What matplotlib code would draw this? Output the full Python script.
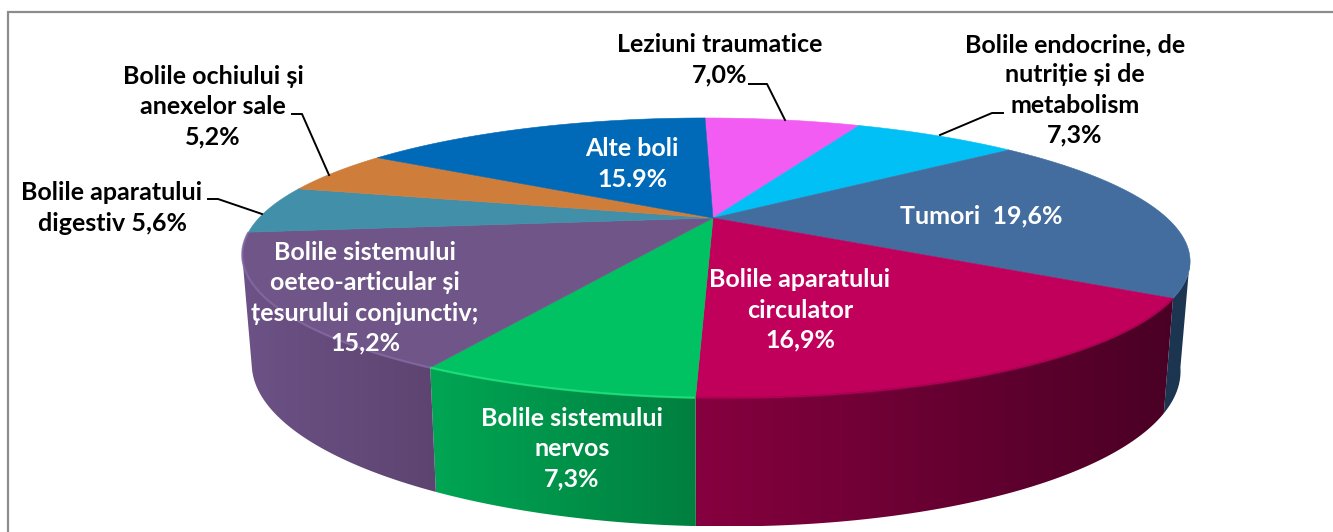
import numpy as np
import matplotlib
matplotlib.use("Agg")
import matplotlib.pyplot as plt
from matplotlib.colors import LinearSegmentedColormap
from matplotlib.patches import Polygon, Rectangle

plt.rcParams['font.family'] = ['Lato', 'DejaVu Sans']

# clockwise from 12 o'clock
shares = [7.0, 7.3, 19.6, 16.9, 7.3, 15.2, 5.6, 5.2, 15.9]
slice_names = ["Leziuni traumatice", "Bolile endocrine", "Tumori", "Bolile aparatului circulator",
               "Bolile sistemului nervos", "Bolile sistemului osteo-articular", "Bolile aparatului digestiv",
               "Bolile ochiului", "Alte boli"]
top_colors = ["#f25cf2", "#00c0f5", "#436c9f", "#c1005c", "#00c262", "#705688", "#418fa9", "#cf7d3a", "#0069b8"]
side_left = ["#c040c0", "#0090c0", "#1c3550", "#86003f", "#00a654", "#6c5286", "#35788e", "#a86530", "#005090"]
side_right = ["#c040c0", "#0090c0", "#1c3550", "#4a0025", "#007f3f", "#5d4470", "#35788e", "#a86530", "#005090"]
rim_colors = [None, None, None, "#a5004f", "#22e37f", "#8468a3", None, None, None]

outer_labels = ["Leziuni traumatice\n7,0%", "Bolile endocrine, de\nnutriție și de\nmetabolism\n7,3%",
                "Bolile ochiului și\nanexelor sale\n5,2%", "Bolile aparatului\ndigestiv 5,6%"]
outer_pos = [(720, 60), (1075, 90), (213, 107), (112, 208)]
inner_labels = ["Alte boli\n15.9%", "Tumori  19,6%", "Bolile aparatului\ncirculator\n16,9%",
                "Bolile sistemului\noeteo-articular și\nțesurului conjunctiv;\n15,2%",
                "Bolile sistemului\nnervos\n7,3%"]
inner_pos = [(632, 164), (981, 216), (800, 310), (365, 298), (572, 449)]
leaders = [[(749, 84), (767, 84), (785, 120)], [(1003, 113), (992, 113), (940, 135)],
           [(292, 114), (302, 114), (329, 175)], [(208, 199), (218, 199), (262, 214)]]

P = 0.2857


def project(theta):
    # tilted disc seen in perspective, theta clockwise from the back
    u, v = np.sin(theta), np.cos(theta)
    w = 1 + P * v
    return 713 + (454 * u - 10.3 * v) / w, 218 - 128.6 * v / w


def project_low(theta):
    x, y = project(theta)
    w = 1 + P * np.cos(theta)
    return 713 + 0.98 * (x - 713), y + 43 + 61 / w


fig = plt.figure(figsize=(13.33, 5.32), dpi=100)
ax = fig.add_axes([0, 0, 1, 1])
ax.add_patch(Rectangle((8, 12), 1340, 540, fc="white", ec="#8c8c8c", lw=1.6, zorder=0))

edges = np.radians(np.concatenate([[0], np.cumsum(shares)]) * 3.6)

# sides only between the two widest points of the rim, then the top face over them
side_from = np.arccos(-P)
side_to = 2 * np.pi - side_from
for i in range(len(shares)):
    a, b = max(edges[i], side_from), min(edges[i + 1], side_to)
    if a >= b:
        continue
    t = np.linspace(a, b, 120)
    xt, yt = project(t)
    xb, yb = project_low(t)
    pts = np.column_stack([np.r_[xt, xb[::-1]], np.r_[yt, yb[::-1]]])
    cmap = LinearSegmentedColormap.from_list(slice_names[i], [side_left[i], side_right[i]])
    x0, x1 = pts[:, 0].min(), pts[:, 0].max()
    clip = Polygon(pts, transform=ax.transData, fc="none", ec="none")
    ax.add_patch(clip)
    im = ax.imshow(np.linspace(0, 1, 256)[None, :], cmap=cmap, aspect="auto",
                   extent=(x0, x1, pts[:, 1].max(), pts[:, 1].min()), zorder=1, interpolation="bilinear")
    im.set_clip_path(clip)

for i in range(len(shares)):
    t = np.linspace(edges[i], edges[i + 1], 120)
    xt, yt = project(t)
    pts = np.column_stack([np.r_[713, xt], np.r_[218, yt]])
    ax.add_patch(Polygon(pts, fc=top_colors[i], ec=top_colors[i], lw=0.4, zorder=2))
for i in range(len(shares)):
    if rim_colors[i] is None:
        continue
    t = np.linspace(edges[i], edges[i + 1], 120)
    xt, yt = project(t)
    ax.plot(xt, yt, color=rim_colors[i], lw=1.6, alpha=0.8, zorder=3, solid_capstyle="butt")

for pts in leaders:
    ax.plot([p[0] for p in pts], [p[1] for p in pts], color="black", lw=1.4, zorder=4)

for txt, (x, y) in zip(outer_labels, outer_pos):
    ax.text(x, y, txt, ha="center", va="center", color="black", fontsize=18, fontweight="bold",
            linespacing=1.38, zorder=5)
for txt, (x, y) in zip(inner_labels, inner_pos):
    ax.text(x, y, txt, ha="center", va="center", color="white", fontsize=18, fontweight="bold",
            linespacing=1.38, zorder=5)

ax.set_xlim(0, 1333)
ax.set_ylim(532, 0)
ax.axis("off")
fig.savefig("out.png", dpi=100)
